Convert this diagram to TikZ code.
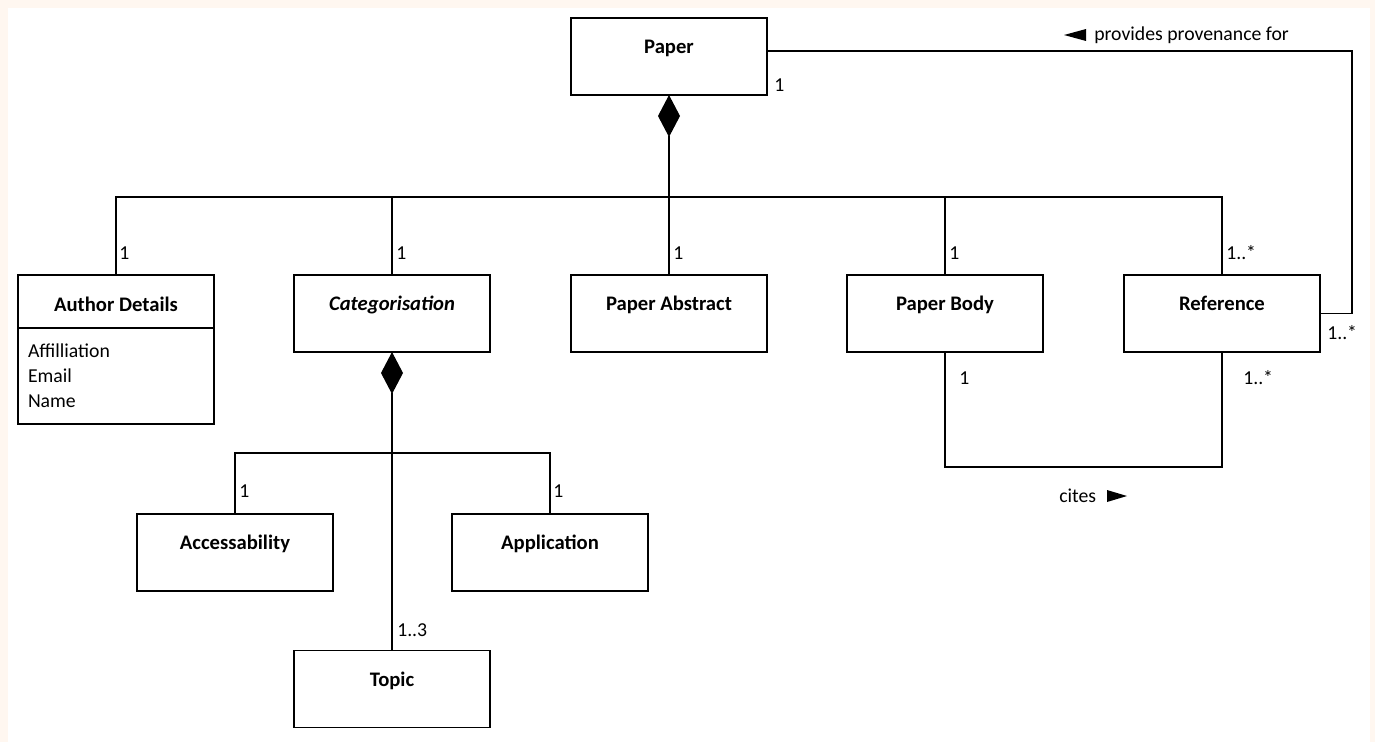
\documentclass[tikz,border=0pt]{standalone}
\usepackage{fontspec}
\setmainfont{Carlito}
\usepackage{xcolor}
\usetikzlibrary{arrows.meta,positioning}

\definecolor{pagebg}{RGB}{255,247,240}

\tikzset{
  umlclass/.style={draw, line width=1pt, fill=white, minimum width=147pt, minimum height=57.75pt,
    inner sep=0pt, outer sep=0pt, font=\fontsize{15.5}{17}\selectfont\bfseries, text height=10.5pt, text depth=14.7pt},
  umlhead/.style={umlclass, minimum height=39.75pt, text height=15.2pt, text depth=0pt},
  umlattr/.style={draw, line width=1pt, outer sep=0pt, minimum width=147pt, minimum height=72pt, inner xsep=7.5pt,
    text width=132pt, align=left, font=\fontsize{14.8}{18.75}\selectfont},
  mult/.style={inner sep=0pt, anchor=west, font=\fontsize{14.8}{17}\selectfont},
  assoc/.style={line width=1pt},
  compos/.style={line width=1pt, {Diamond[length=31.5pt, width=16.5pt]}-},
}

\begin{document}
\begin{tikzpicture}[x=0.75pt,y=0.75pt,yscale=-1]

    % page
    \fill[pagebg] (0,0) rectangle (1375,742);
    \fill[white] (8,8) rectangle (1370,742);
    \useasboundingbox (0,0) rectangle (1375,742);

    % classes
    \draw (669,56.5) node [umlclass] (paper) {Paper};
    \draw (116,301.5) node [umlhead] (authorhead) {Author Details};
    \draw (authorhead.south) node [umlattr, anchor=north] (authorattr) {Affilliation\\Email\\Name};
    \draw (392,313.5) node [umlclass] (categ) {\itshape Categorisation};
    \draw (669,313.5) node [umlclass] (abstract) {Paper Abstract};
    \draw (945,313.5) node [umlclass] (body) {Paper Body};
    \draw (1222,313.5) node [umlclass] (reference) {Reference};
    \draw (235,552.5) node [umlclass] (access) {Accessability};
    \draw (550,552.5) node [umlclass] (application) {Application};
    \draw (392,689) node [umlclass] (topic) {Topic};

    % paper composition
    \coordinate (hub) at (669,197);
    \draw [compos] (paper.south) -- (hub);
    \draw [assoc] (hub) -| (authorhead.north);
    \draw [assoc] (hub) -| (categ.north);
    \draw [assoc] (hub) -- (abstract.north);
    \draw [assoc] (hub) -| (body.north);
    \draw [assoc] (hub) -| (reference.north);

    % categorisation composition
    \coordinate (cathub) at (392,453);
    \draw [compos] (categ.south) -- (cathub);
    \draw [assoc] (cathub) -| (access.north);
    \draw [assoc] (cathub) -| (application.north);
    \draw [assoc] (cathub) -- (topic.north);

    % associations
    \draw [assoc] ([yshift=-4.1pt]paper.east) -| (1352,313.5) -- (reference.east);
    \draw [assoc] (body.south) -- (945,467) -| (reference.south);

    % multiplicities
    \draw (119,253) node [mult] (m1) {1};
    \draw (396,253) node [mult] (m2) {1};
    \draw (673,253) node [mult] (m3) {1};
    \draw (949,253) node [mult] (m4) {1};
    \draw (1226,253) node [mult] (m5) {1..*};
    \draw (774,85) node [mult] (m6) {1};
    \draw (1327,333) node [mult] (m7) {1..*};
    \draw (959,378) node [mult] (m8) {1};
    \draw (1243,378) node [mult] (m9) {1..*};
    \draw (239,491) node [mult] (m10) {1};
    \draw (553,491) node [mult] (m11) {1};
    \draw (397,630) node [mult] (m12) {1..3};

    % association names
    \draw (1094,35) node [mult] (prov) {provides provenance for};
    \fill (1064,35) -- (1086,29) -- (1086,41) -- cycle;
    \draw (1059,496) node [mult] (cites) {cites};
    \fill (1127,496) -- (1107,490) -- (1107,502) -- cycle;

\end{tikzpicture}
\end{document}
